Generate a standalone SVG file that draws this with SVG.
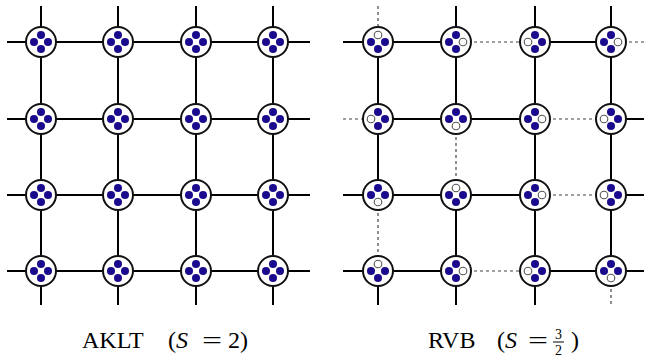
<svg xmlns="http://www.w3.org/2000/svg" width="645" height="363" viewBox="0 0 645 363">
<style>
.s{stroke:#000;stroke-width:2;fill:none}
.d{stroke:#444;stroke-width:1.2;stroke-dasharray:3 3;fill:none}
.ring{fill:#fff;stroke:#111;stroke-width:2}
.f{fill:#1a0a8e}
.o{fill:#fff;stroke:#555;stroke-width:1.1}
.t{font-family:"Liberation Serif","DejaVu Serif",serif;fill:#000}
</style>
<defs>
<circle id="ring" r="15" class="ring"/>
<circle id="fd" r="4" class="f"/>
<circle id="od" r="3.8" class="o"/>
</defs>
<rect width="645" height="363" fill="#fff"/>
<g id="connectors">
<g id="aklt-bonds">
<path class="s" d="M7 42H310M7 119H310M7 195H310M7 271H310M41 6V305M118 6V305M196 6V305M273 6V305"/>
</g>
<g id="rvb-bonds">
<path class="s" d="M343 42H456M535 42H611M378 119H535M343 195H535M343 271H456M535 271H611M611 119H644M611 195H644M611 271H644"/>
<path class="d" d="M456 42H535M611 42H644M343 119H378M535 119H611M535 195H611M456 271H535"/>
<path class="s" d="M378 42V195M378 271V305M456 6V119M456 195V305M535 6V305M611 6V271"/>
<path class="d" d="M378 6V42M378 195V271M456 119V195M611 271V305"/>
</g>
</g>
<g id="aklt">
<g id="a00" transform="translate(41,42)"><use href="#ring"/><use href="#fd" y="-7"/><use href="#fd" x="7"/><use href="#fd" y="7"/><use href="#fd" x="-7"/></g>
<g id="a01" transform="translate(118,42)"><use href="#ring"/><use href="#fd" y="-7"/><use href="#fd" x="7"/><use href="#fd" y="7"/><use href="#fd" x="-7"/></g>
<g id="a02" transform="translate(196,42)"><use href="#ring"/><use href="#fd" y="-7"/><use href="#fd" x="7"/><use href="#fd" y="7"/><use href="#fd" x="-7"/></g>
<g id="a03" transform="translate(273,42)"><use href="#ring"/><use href="#fd" y="-7"/><use href="#fd" x="7"/><use href="#fd" y="7"/><use href="#fd" x="-7"/></g>
<g id="a10" transform="translate(41,119)"><use href="#ring"/><use href="#fd" y="-7"/><use href="#fd" x="7"/><use href="#fd" y="7"/><use href="#fd" x="-7"/></g>
<g id="a11" transform="translate(118,119)"><use href="#ring"/><use href="#fd" y="-7"/><use href="#fd" x="7"/><use href="#fd" y="7"/><use href="#fd" x="-7"/></g>
<g id="a12" transform="translate(196,119)"><use href="#ring"/><use href="#fd" y="-7"/><use href="#fd" x="7"/><use href="#fd" y="7"/><use href="#fd" x="-7"/></g>
<g id="a13" transform="translate(273,119)"><use href="#ring"/><use href="#fd" y="-7"/><use href="#fd" x="7"/><use href="#fd" y="7"/><use href="#fd" x="-7"/></g>
<g id="a20" transform="translate(41,195)"><use href="#ring"/><use href="#fd" y="-7"/><use href="#fd" x="7"/><use href="#fd" y="7"/><use href="#fd" x="-7"/></g>
<g id="a21" transform="translate(118,195)"><use href="#ring"/><use href="#fd" y="-7"/><use href="#fd" x="7"/><use href="#fd" y="7"/><use href="#fd" x="-7"/></g>
<g id="a22" transform="translate(196,195)"><use href="#ring"/><use href="#fd" y="-7"/><use href="#fd" x="7"/><use href="#fd" y="7"/><use href="#fd" x="-7"/></g>
<g id="a23" transform="translate(273,195)"><use href="#ring"/><use href="#fd" y="-7"/><use href="#fd" x="7"/><use href="#fd" y="7"/><use href="#fd" x="-7"/></g>
<g id="a30" transform="translate(41,271)"><use href="#ring"/><use href="#fd" y="-7"/><use href="#fd" x="7"/><use href="#fd" y="7"/><use href="#fd" x="-7"/></g>
<g id="a31" transform="translate(118,271)"><use href="#ring"/><use href="#fd" y="-7"/><use href="#fd" x="7"/><use href="#fd" y="7"/><use href="#fd" x="-7"/></g>
<g id="a32" transform="translate(196,271)"><use href="#ring"/><use href="#fd" y="-7"/><use href="#fd" x="7"/><use href="#fd" y="7"/><use href="#fd" x="-7"/></g>
<g id="a33" transform="translate(273,271)"><use href="#ring"/><use href="#fd" y="-7"/><use href="#fd" x="7"/><use href="#fd" y="7"/><use href="#fd" x="-7"/></g>
</g>
<g id="rvb">
<g id="r00" transform="translate(378,42)"><use href="#ring"/><use href="#od" y="-7"/><use href="#fd" x="7"/><use href="#fd" y="7"/><use href="#fd" x="-7"/></g>
<g id="r01" transform="translate(456,42)"><use href="#ring"/><use href="#fd" y="-7"/><use href="#od" x="7"/><use href="#fd" y="7"/><use href="#fd" x="-7"/></g>
<g id="r02" transform="translate(535,42)"><use href="#ring"/><use href="#fd" y="-7"/><use href="#fd" x="7"/><use href="#fd" y="7"/><use href="#od" x="-7"/></g>
<g id="r03" transform="translate(611,42)"><use href="#ring"/><use href="#fd" y="-7"/><use href="#od" x="7"/><use href="#fd" y="7"/><use href="#fd" x="-7"/></g>
<g id="r10" transform="translate(378,119)"><use href="#ring"/><use href="#fd" y="-7"/><use href="#fd" x="7"/><use href="#fd" y="7"/><use href="#od" x="-7"/></g>
<g id="r11" transform="translate(456,119)"><use href="#ring"/><use href="#fd" y="-7"/><use href="#fd" x="7"/><use href="#od" y="7"/><use href="#fd" x="-7"/></g>
<g id="r12" transform="translate(535,119)"><use href="#ring"/><use href="#fd" y="-7"/><use href="#od" x="7"/><use href="#fd" y="7"/><use href="#fd" x="-7"/></g>
<g id="r13" transform="translate(611,119)"><use href="#ring"/><use href="#fd" y="-7"/><use href="#fd" x="7"/><use href="#fd" y="7"/><use href="#od" x="-7"/></g>
<g id="r20" transform="translate(378,195)"><use href="#ring"/><use href="#fd" y="-7"/><use href="#fd" x="7"/><use href="#od" y="7"/><use href="#fd" x="-7"/></g>
<g id="r21" transform="translate(456,195)"><use href="#ring"/><use href="#od" y="-7"/><use href="#fd" x="7"/><use href="#fd" y="7"/><use href="#fd" x="-7"/></g>
<g id="r22" transform="translate(535,195)"><use href="#ring"/><use href="#fd" y="-7"/><use href="#od" x="7"/><use href="#fd" y="7"/><use href="#fd" x="-7"/></g>
<g id="r23" transform="translate(611,195)"><use href="#ring"/><use href="#fd" y="-7"/><use href="#fd" x="7"/><use href="#fd" y="7"/><use href="#od" x="-7"/></g>
<g id="r30" transform="translate(378,271)"><use href="#ring"/><use href="#od" y="-7"/><use href="#fd" x="7"/><use href="#fd" y="7"/><use href="#fd" x="-7"/></g>
<g id="r31" transform="translate(456,271)"><use href="#ring"/><use href="#fd" y="-7"/><use href="#od" x="7"/><use href="#fd" y="7"/><use href="#fd" x="-7"/></g>
<g id="r32" transform="translate(535,271)"><use href="#ring"/><use href="#fd" y="-7"/><use href="#fd" x="7"/><use href="#fd" y="7"/><use href="#od" x="-7"/></g>
<g id="r33" transform="translate(611,271)"><use href="#ring"/><use href="#fd" y="-7"/><use href="#fd" x="7"/><use href="#od" y="7"/><use href="#fd" x="-7"/></g>
</g>
<g id="labels" class="t" font-size="24">
<text x="82" y="348">AKLT</text>
<text x="168" y="348">(<tspan font-style="italic">S</tspan></text>
<text x="202" y="348" textLength="20" lengthAdjust="spacingAndGlyphs">=</text>
<text x="228" y="348">2)</text>
<text x="428" y="348">RVB</text>
<text x="497" y="348">(<tspan font-style="italic">S</tspan></text>
<text x="528" y="348" textLength="20" lengthAdjust="spacingAndGlyphs">=</text>
<text x="558.5" y="339" font-size="14" text-anchor="middle">3</text>
<line x1="553" y1="342" x2="564" y2="342" stroke="#000" stroke-width="1"/>
<text x="558.5" y="355" font-size="14" text-anchor="middle">2</text>
<text x="571" y="348">)</text>
</g>
</svg>
